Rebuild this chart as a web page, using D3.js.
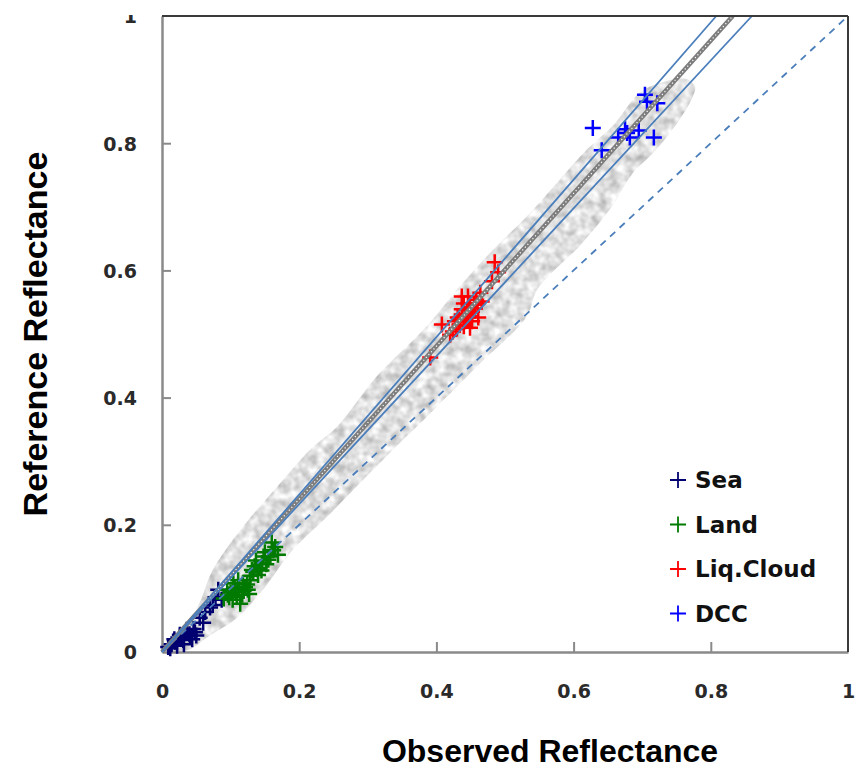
<!DOCTYPE html>
<html>
<head>
<meta charset="utf-8">
<script src="https://cdn.jsdelivr.net/npm/d3@7"></script>
<style>
  body { margin: 0; background: #fff; }
  svg { display: block; }
</style>
</head>
<body>
<div id="chart"></div>
<script>
// observed vs reference reflectance
const xTicks = [0, 0.2, 0.4, 0.6, 0.8, 1]
const yTicks = [0, 0.2, 0.4, 0.6, 0.8, 1]

const seaPoints = [
  [0.009, 0.008], [0.019, 0.016], [0.031, 0.019], [0.041, 0.025], [0.048, 0.031],
  [0.036, 0.035], [0.026, 0.027], [0.014, 0.012], [0.022, 0.010], [0.044, 0.020],
  [0.055, 0.054], [0.063, 0.063], [0.074, 0.074], [0.082, 0.098], [0.087, 0.082],
  [0.070, 0.070], [0.060, 0.046], [0.078, 0.086], [0.012, 0.006], [0.028, 0.022],
  [0.035, 0.030], [0.040, 0.028], [0.046, 0.036], [0.018, 0.020], [0.032, 0.012],
  [0.050, 0.026]
]
const landPoints = [
  [0.160, 0.172], [0.169, 0.153], [0.146, 0.140], [0.131, 0.129], [0.111, 0.113],
  [0.121, 0.102], [0.096, 0.090], [0.103, 0.082], [0.117, 0.090], [0.125, 0.098],
  [0.095, 0.098], [0.150, 0.157], [0.140, 0.121], [0.106, 0.101], [0.128, 0.113],
  [0.155, 0.145], [0.090, 0.084], [0.114, 0.076], [0.135, 0.135], [0.145, 0.128],
  [0.118, 0.108], [0.100, 0.094], [0.162, 0.160], [0.137, 0.144], [0.098, 0.086],
  [0.108, 0.094], [0.112, 0.100], [0.119, 0.096], [0.124, 0.106], [0.129, 0.120],
  [0.133, 0.126], [0.142, 0.132], [0.148, 0.150], [0.152, 0.138], [0.158, 0.150],
  [0.165, 0.165], [0.104, 0.108], [0.109, 0.087], [0.127, 0.091], [0.139, 0.130]
]
const cloudPoints = [
  [0.485, 0.613], [0.490, 0.597], [0.481, 0.583], [0.437, 0.559], [0.446, 0.559],
  [0.464, 0.565], [0.466, 0.551], [0.408, 0.515], [0.391, 0.463], [0.461, 0.526],
  [0.449, 0.510], [0.424, 0.504], [0.420, 0.499], [0.437, 0.539], [0.443, 0.531],
  [0.449, 0.542], [0.455, 0.546], [0.431, 0.526], [0.442, 0.520], [0.452, 0.535],
  [0.458, 0.554], [0.434, 0.515], [0.427, 0.520], [0.446, 0.526], [0.440, 0.548],
  [0.445, 0.538], [0.450, 0.528], [0.438, 0.530], [0.456, 0.540], [0.460, 0.548],
  [0.433, 0.522], [0.447, 0.547], [0.452, 0.520], [0.440, 0.512], [0.429, 0.508]
]
const dccPoints = [
  [0.628, 0.824], [0.641, 0.789], [0.704, 0.876], [0.707, 0.865], [0.722, 0.863],
  [0.665, 0.809], [0.678, 0.816], [0.682, 0.809], [0.675, 0.822], [0.695, 0.820],
  [0.717, 0.809]
]

// scatter envelope (textured grey band), traced round its edge
const bandOutline = [
  [0.004, 0.003], [0.009, 0.014], [0.029, 0.035], [0.052, 0.071], [0.074, 0.129],
  [0.118, 0.197], [0.168, 0.260], [0.216, 0.318], [0.255, 0.354], [0.313, 0.433],
  [0.386, 0.512], [0.434, 0.575], [0.483, 0.633], [0.532, 0.685], [0.580, 0.743],
  [0.620, 0.791], [0.657, 0.827], [0.697, 0.880], [0.730, 0.896], [0.765, 0.901],
  [0.777, 0.888], [0.774, 0.874], [0.755, 0.838], [0.730, 0.802], [0.707, 0.775],
  [0.687, 0.754], [0.653, 0.696], [0.610, 0.640], [0.547, 0.570], [0.532, 0.528],
  [0.459, 0.449], [0.386, 0.370], [0.347, 0.329], [0.289, 0.266], [0.241, 0.213],
  [0.191, 0.161], [0.150, 0.102], [0.111, 0.055], [0.067, 0.024], [0.038, 0.003]
]

// fitted lines as [x, y] end points
const fitLine = [[0, 0], [0.832, 1]]
const upperLine = [[0, 0], [0.808, 1]]
const lowerLine = [[0, 0], [0.860, 1]]
const oneToOne = [[0, 0], [1, 1]]

const series = [
  { name: "Sea", color: "#000070", points: seaPoints },
  { name: "Land", color: "#007a00", points: landPoints },
  { name: "Liq.Cloud", color: "#ff0000", points: cloudPoints },
  { name: "DCC", color: "#0000ff", points: dccPoints }
]

const width = 861
const height = 770
const plotLeft = 162, plotRight = 848, plotTop = 16, plotBottom = 652

const x = d3.scaleLinear().domain([0, 1]).range([plotLeft, plotRight])
const y = d3.scaleLinear().domain([0, 1]).range([plotBottom, plotTop])

const svg = d3.select("#chart")
  .append("svg")
  .attr("width", width)
  .attr("height", height)

svg.append("rect").attr("width", width).attr("height", height).attr("fill", "#fff")

const defs = svg.append("defs")
const filt = defs.append("filter").attr("id", "tex")
  .attr("x", 0).attr("y", 0).attr("width", 1).attr("height", 1)
  .attr("color-interpolation-filters", "sRGB")
filt.append("feTurbulence")
  .attr("type", "fractalNoise")
  .attr("baseFrequency", 0.11)
  .attr("numOctaves", 2)
  .attr("seed", 7)
  .attr("result", "noise")
filt.append("feColorMatrix")
  .attr("in", "noise")
  .attr("type", "matrix")
  .attr("values", "0.45 0 0 0 0.65  0.45 0 0 0 0.65  0.45 0 0 0 0.65  0 0 0 0 1")
  .attr("result", "grey")
filt.append("feComposite")
  .attr("in", "grey")
  .attr("in2", "SourceGraphic")
  .attr("operator", "in")

const line = d3.line().x(d => x(d[0])).y(d => y(d[1]))

// band
svg.append("path")
  .datum(bandOutline)
  .attr("d", d3.line().x(d => x(d[0])).y(d => y(d[1])).curve(d3.curveCatmullRomClosed))
  .attr("fill", "#ddd")
  .attr("filter", "url(#tex)")

const xAxis = svg.append("g")
  .attr("transform", `translate(0,${plotBottom})`)
  .call(d3.axisBottom(x).tickValues(xTicks).tickSizeInner(-10).tickSizeOuter(0)
    .tickFormat(d3.format("")))
xAxis.select(".domain").attr("stroke", "#8a8a8a").attr("stroke-width", 2.5)
xAxis.selectAll(".tick line").attr("stroke", "#8a8a8a").attr("stroke-width", 2)
xAxis.selectAll(".tick text")
  .attr("y", 46)
  .attr("dy", 0)
  .attr("fill", "#2a2a2a")
  .style("font", "bold 19px 'DejaVu Sans'")
xAxis.selectAll(".tick line").filter(d => d === 0 || d === 1).remove()

const yAxis = svg.append("g")
  .attr("transform", `translate(${plotLeft},0)`)
  .call(d3.axisLeft(y).tickValues(yTicks).tickSizeInner(-9).tickSizeOuter(0)
    .tickFormat(d3.format("")))
yAxis.select(".domain").attr("stroke", "#8a8a8a").attr("stroke-width", 2.5)
yAxis.selectAll(".tick line").attr("stroke", "#8a8a8a").attr("stroke-width", 2)
yAxis.selectAll(".tick line").filter(d => d === 0 || d === 1).remove()
yAxis.selectAll(".tick text")
  .attr("x", -25)
  .attr("dy", "0.36em")
  .attr("fill", "#2a2a2a")
  .style("font", "bold 19px 'DejaVu Sans'")

// markers
series.forEach(s => {
  svg.append("g")
    .selectAll("path")
    .data(s.points)
    .enter()
    .append("path")
    .attr("transform", d => `translate(${x(d[0])},${y(d[1])})`)
    .attr("d", "M-8,0H8M0,-8V8")
    .attr("stroke", s.color)
    .attr("stroke-width", 2.5)
    .attr("fill", "none")
})

// 1:1 line
svg.append("path").datum(oneToOne).attr("d", line)
  .attr("stroke", "#4a7ebb").attr("stroke-width", 1.8)
  .attr("stroke-dasharray", "7,6").attr("fill", "none")

// regression fit with confidence lines
svg.append("path").datum(fitLine).attr("d", line)
  .attr("stroke", "#7d7d7d").attr("stroke-width", 4.5).attr("fill", "none")
svg.append("path").datum(fitLine).attr("d", line)
  .attr("stroke", "#fff").attr("stroke-width", 1.2)
  .attr("stroke-dasharray", "1.2,2.6").attr("fill", "none")
svg.append("path").datum(upperLine).attr("d", line)
  .attr("stroke", "#4a7ebb").attr("stroke-width", 1.8).attr("fill", "none")
svg.append("path").datum(lowerLine).attr("d", line)
  .attr("stroke", "#4a7ebb").attr("stroke-width", 1.8).attr("fill", "none")

// frame top/right, dark; covers line ends above the top
svg.append("rect").attr("x", 0).attr("y", 0).attr("width", width).attr("height", plotTop - 1)
  .attr("fill", "#fff")
svg.append("line").attr("x1", plotLeft).attr("x2", plotRight).attr("y1", plotTop).attr("y2", plotTop)
  .attr("stroke", "#3a3a3a").attr("stroke-width", 2)
svg.append("line").attr("x1", plotRight).attr("x2", plotRight).attr("y1", plotTop).attr("y2", plotBottom)
  .attr("stroke", "#3a3a3a").attr("stroke-width", 2)

// legend
const legend = svg.append("g")
series.forEach((s, i) => {
  const ly = 480 + i * 44.5
  legend.append("path")
    .attr("d", `M670,${ly}H686M678,${ly - 8}V${ly + 8}`)
    .attr("stroke", s.color).attr("stroke-width", 1.8)
  legend.append("text")
    .attr("x", 695).attr("y", ly + 8)
    .attr("fill", "#111")
    .style("font", "bold 23px 'DejaVu Sans'")
    .text(s.name)
})

// axis titles
svg.append("text")
  .attr("x", 550).attr("y", 762)
  .attr("text-anchor", "middle")
  .style("font", "bold 32px 'Liberation Sans'")
  .text("Observed Reflectance")

svg.append("text")
  .attr("transform", `translate(47,334) rotate(-90)`)
  .attr("text-anchor", "middle")
  .style("font", "bold 34px 'Liberation Sans'")
  .text("Reference Reflectance")
</script>
</body>
</html>
